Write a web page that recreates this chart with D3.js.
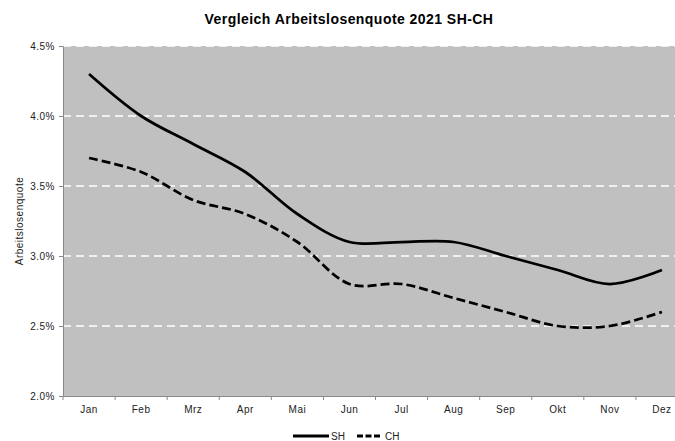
<!DOCTYPE html>
<html><head><meta charset="utf-8">
<script src="https://cdn.jsdelivr.net/npm/d3@7"></script>
<style>body{margin:0;background:#fff}svg{display:block;font-family:"Liberation Sans",Arial,sans-serif}</style>
</head><body><svg id="c" width="675" height="441"></svg>
<script>
const months = ["Jan","Feb","Mrz","Apr","Mai","Jun","Jul","Aug","Sep","Okt","Nov","Dez"];
const sh = [4.3,4.0,3.8,3.6,3.3,3.1,3.1,3.1,3.0,2.9,2.8,2.9];
const ch = [3.7,3.6,3.4,3.3,3.1,2.8,2.8,2.7,2.6,2.5,2.5,2.6];
const yTicks = [2.0,2.5,3.0,3.5,4.0,4.5];

const svg = d3.select("#c");
const L = 63, R = 688, T = 46, B = 396;
const x = d3.scaleBand().domain(months).range([L, R]);
const y = d3.scaleLinear().domain([2.0, 4.5]).range([B, T]);

svg.append("rect").attr("x", L).attr("y", T).attr("width", R - L).attr("height", B - T).attr("fill", "#c0c0c0");

svg.append("g").selectAll("line").data(yTicks.filter(d => d > 2.0)).join("line")
  .attr("x1", L).attr("x2", R).attr("y1", d => y(d)).attr("y2", d => y(d))
  .attr("stroke", "#fff").attr("stroke-width", 1.5).attr("stroke-dasharray", "8,5");

const yAx = svg.append("g").attr("transform", `translate(${L},0)`)
  .call(d3.axisLeft(y).tickValues(yTicks).tickFormat(d => d.toFixed(1) + "%").tickSize(4).tickPadding(4));
yAx.select(".domain").attr("stroke", "#888");
yAx.selectAll(".tick line").attr("stroke", "#888");
yAx.selectAll("text").attr("font-size", 10).attr("letter-spacing", 0.5).attr("fill", "#222");

const xAx = svg.append("g").attr("transform", `translate(0,${B})`)
  .call(d3.axisBottom(x).tickSize(0).tickPadding(10));
xAx.select(".domain").attr("stroke", "#888");
xAx.selectAll("text").attr("font-size", 10).attr("letter-spacing", 0.5).attr("fill", "#222");
svg.append("g").selectAll("line").data(months).join("line")
  .attr("x1", d => x(d)).attr("x2", d => x(d)).attr("y1", B).attr("y2", B + 4).attr("stroke", "#888");

const line = d3.line().x((d, i) => x(months[i]) + x.bandwidth() / 2).y(d => y(d)).curve(d3.curveCatmullRom.alpha(0.5));
svg.append("path").attr("d", line(sh)).attr("fill", "none").attr("stroke", "#000").attr("stroke-width", 2.75);
svg.append("path").attr("d", line(ch)).attr("fill", "none").attr("stroke", "#000").attr("stroke-width", 2.75).attr("stroke-dasharray", "9,4");

svg.append("text").attr("x", 349).attr("y", 24).attr("text-anchor", "middle")
  .attr("font-size", 14).attr("letter-spacing", 0.45).attr("font-weight", "bold").text("Vergleich Arbeitslosenquote 2021 SH-CH");
svg.append("text").attr("transform", "translate(23,221) rotate(-90)").attr("text-anchor", "middle")
  .attr("font-size", 10).attr("letter-spacing", 0.5).attr("fill", "#222").text("Arbeitslosenquote");

const lg = svg.append("g");
lg.append("line").attr("x1", 293).attr("x2", 329).attr("y1", 436).attr("y2", 436).attr("stroke", "#000").attr("stroke-width", 3);
lg.append("text").attr("x", 331).attr("y", 440).attr("font-size", 10).attr("fill", "#222").text("SH");
lg.append("line").attr("x1", 357).attr("x2", 380).attr("y1", 436).attr("y2", 436).attr("stroke", "#000").attr("stroke-width", 3).attr("stroke-dasharray", "6,2.5");
lg.append("text").attr("x", 385).attr("y", 440).attr("font-size", 10).attr("fill", "#222").text("CH");
</script></body></html>
